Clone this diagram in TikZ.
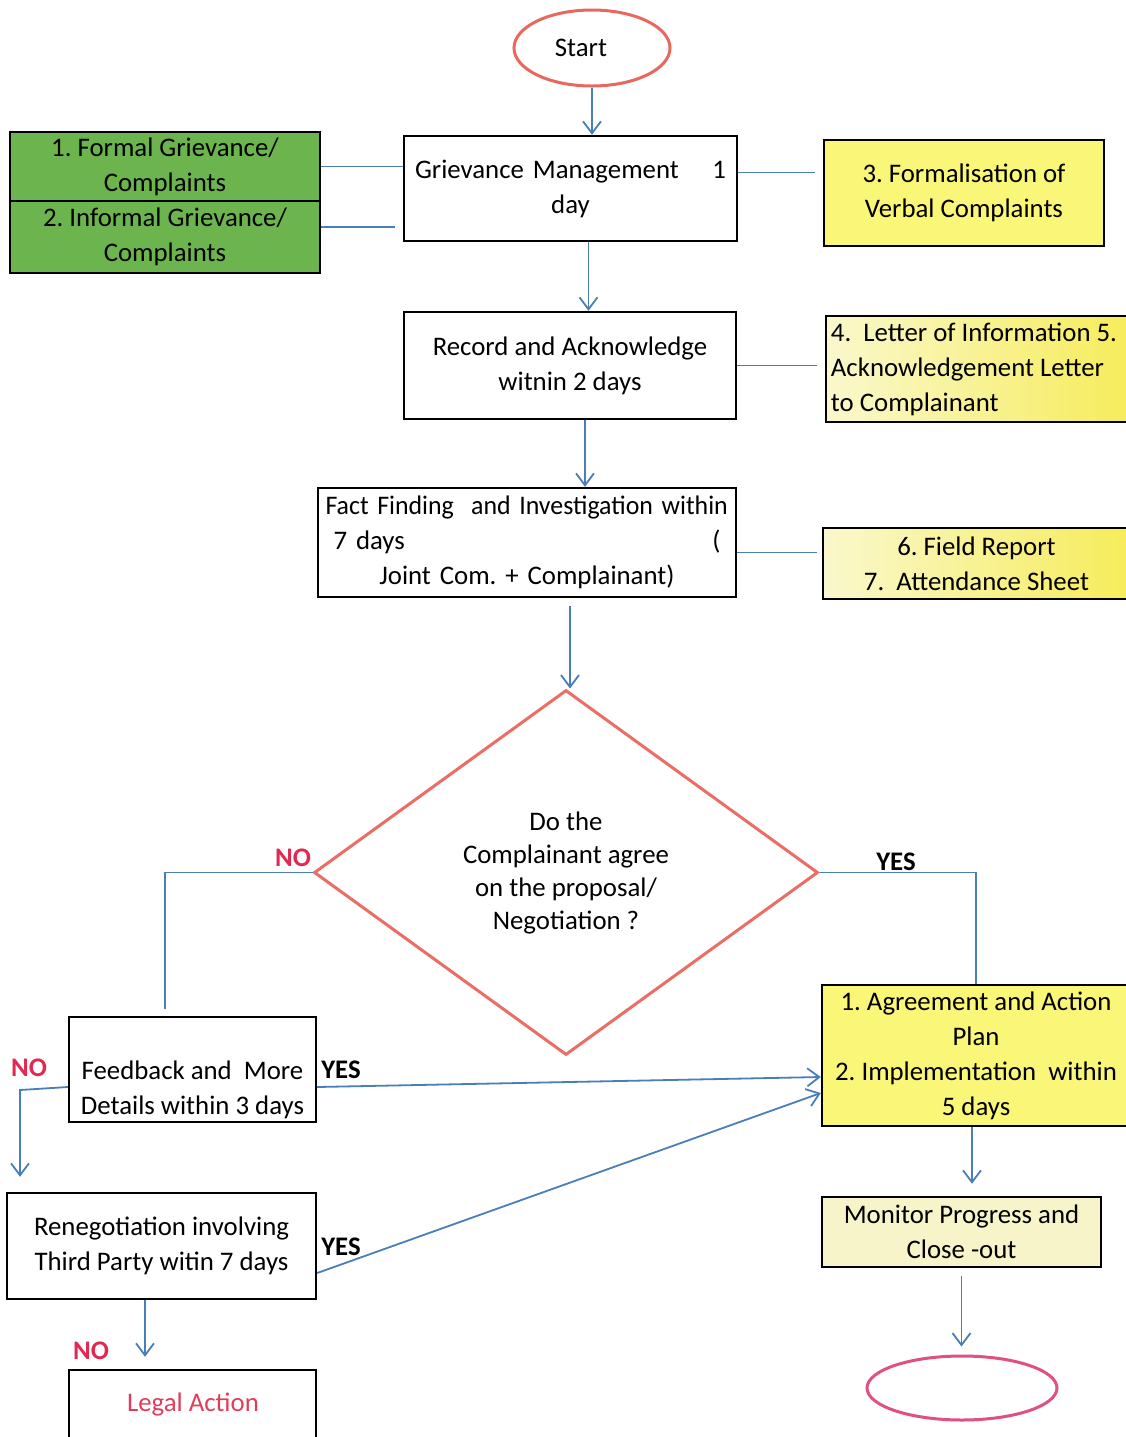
\documentclass[tikz,border=0pt]{standalone}
\usepackage{fontspec}
\usepackage{graphicx}
\setmainfont{Carlito}
\usetikzlibrary{arrows.meta,shapes.geometric,calc}
\definecolor{linkblue}{RGB}{74,126,187}
\definecolor{startred}{RGB}{232,104,96}
\definecolor{decred}{RGB}{235,110,100}
\definecolor{endpink}{RGB}{224,80,130}
\definecolor{nored}{RGB}{226,40,80}
\definecolor{legalred}{RGB}{226,60,90}
\definecolor{greenfill}{RGB}{108,180,78}
\definecolor{yellowfill}{RGB}{250,246,120}
\definecolor{paleyellow}{RGB}{250,248,205}
\definecolor{deepyellow}{RGB}{246,236,90}
\definecolor{monfill}{RGB}{246,244,200}
\begin{document}
\begin{tikzpicture}[x=0.5pt,y=-0.5pt,
  every node/.style={font=\fontsize{13.4}{17.5}\selectfont\frenchspacing, inner sep=0pt},
  box/.style={draw=black, line width=1.2pt, align=center},
  conn/.style={draw=linkblue, line width=0.9pt},
  arr/.style={conn, -{Straight Barb[length=6pt,width=9pt,line width=0.9pt]}},
  nolbl/.style={text=nored, font=\fontsize{13.4}{17.5}\selectfont\bfseries},
  yeslbl/.style={text=black, font=\fontsize{13.4}{17.5}\selectfont\bfseries}]
\useasboundingbox (0,0) rectangle (1126,1437);
\clip (0,0) rectangle (1126,1437);
\fill[white] (0,0) rectangle (1126,1437);

% nodes
\node[ellipse, draw=startred, line width=1.5pt, minimum width=78pt, minimum height=38pt] (start) at (592,48) {\hspace*{-11pt}Start};

\node[box, fill=greenfill, minimum width=155pt, minimum height=34.5pt] (g1) at (165,166.5) {1. Formal Grievance/\\Complaints};
\node[box, fill=greenfill, minimum width=155pt, minimum height=36pt] (g2) at (165,237) {2. Informal Grievance/\\Complaints};

\node[box, minimum width=166.5pt, minimum height=52.5pt, text width=155.5pt] (grv) at (570.5,188.5) {\makebox[155.5pt]{Grievance Management\hfill 1}\\day};

\node[box, fill=yellowfill, minimum width=140pt, minimum height=53pt] (f3) at (964,193) {3. Formalisation of\\Verbal Complaints};

\node[box, minimum width=166pt, minimum height=53.5pt] (rec) at (570,365.5) {Record and Acknowledge\\witnin 2 days};

\node[box, left color=paleyellow, right color=deepyellow, minimum width=153pt, minimum height=53pt, align=left] (f45) at (979,369) {4.\ \ Letter of Information 5.\hspace*{5pt}\\Acknowledgement Letter\\to Complainant};

\node[box, minimum width=209pt, minimum height=54.5pt, text width=201.5pt] (fact) at (527,542.5) {\makebox[201.5pt][l]{\scalebox{0.965}[1]{Fact Finding\ \ and Investigation within}}\\\makebox[201.5pt]{\hspace{4pt}7 days\hfill(\hspace{4pt}}\\Joint Com. + Complainant)};

\node[box, left color=paleyellow, right color=deepyellow, minimum width=153.5pt, minimum height=35.5pt] (f67) at (976.5,563.5) {6. Field Report\\7.\ \ Attendance Sheet};

\node[diamond, draw=decred, line width=1.5pt, minimum width=252pt, minimum height=182.5pt, align=center, font=\fontsize{13.4}{16.5}\selectfont] (dec) at (566,872.5) {Do the\\Complainant agree\\on the proposal/\\Negotiation ?};

\node[box, minimum width=123.5pt, minimum height=52.5pt] (fb) at (192.5,1069.5) {\strut\\Feedback and\ \ More\\Details within 3 days};

\node[box, fill=yellowfill, minimum width=154pt, minimum height=70.5pt] (agr) at (976,1055.5) {1. Agreement and Action\\Plan\\2. Implementation\ \ within\\5 days};

\node[box, minimum width=154.5pt, minimum height=53pt] (ren) at (161.5,1246) {Renegotiation involving\\Third Party witin 7 days};

\node[box, minimum width=123.5pt, minimum height=45pt] (legal) at (192.5,1415) {};
\node[text=legalred] (legaltxt) at (193,1404) {Legal Action};

\node[box, fill=monfill, minimum width=139.5pt, minimum height=35pt] (mon) at (961.5,1232) {Monitor Progress and\\Close -out};

\node[ellipse, draw=endpink, line width=1.5pt, minimum width=95pt, minimum height=32pt] (end) at (962,1388) {};

% labels
\node[nolbl] (no1) at (293,858) {NO};
\node[yeslbl] (yes1) at (896,862) {YES};
\node[nolbl] (no2) at (29,1068) {NO};
\node[yeslbl] (yes2) at (341,1070) {YES};
\node[yeslbl] (yes3) at (341,1247) {YES};
\node[nolbl] (no3) at (91,1351) {NO};

% connectors
\draw[arr] (start.south) -- (start.south |- grv.north);
\draw[conn] (g1.east) -- (g1.east -| grv.west);
\coordinate (g2e) at ([yshift=5pt]g2.east);
\draw[conn, shorten >=4pt] (g2e) -- (g2e -| grv.west);
\coordinate (grve) at ([yshift=8pt]grv.east);
\draw[conn, shorten >=4pt] (grve) -- (grve -| f3.west);
\coordinate (grvs) at ([xshift=9pt]grv.south);
\draw[arr] (grvs) -- (grvs |- rec.north);
\draw[conn, shorten >=4pt] (rec.east) -- (rec.east -| f45.west);
\coordinate (recs) at ([xshift=7.5pt]rec.south);
\draw[arr] (recs) -- (recs |- fact.north);
\coordinate (facte) at ([yshift=-5pt]fact.east);
\draw[conn, shorten >=2.5pt] (facte) -- (facte -| f67.west);
\coordinate (facts) at ([xshift=21.5pt]fact.south);
\draw[arr, shorten <=4pt] (facts) -- (facts |- dec.north);
\coordinate (noturn) at ([xshift=-13.75pt]fb.north |- dec.west);
\draw[conn, shorten >=3.5pt] (dec.west) -- (noturn) -- (noturn |- fb.north);
\draw[conn] (dec.east) -| (agr.north);
\draw[arr] ([yshift=-8.75pt]fb.east) -- ([yshift=-10.75pt]agr.west);
\coordinate (fbw) at ([yshift=-8.75pt]fb.west);
\coordinate (noturn2) at (20,1090);
\draw[arr, shorten >=7.5pt] (fbw) -- (noturn2) -- (noturn2 |- ren.north);
\draw[arr] ([yshift=-13.5pt]ren.east) -- ([yshift=-18.75pt]agr.west);
\coordinate (rens) at ([xshift=-8.25pt]ren.south);
\draw[arr, shorten >=6pt] (rens) -- (rens |- legal.north);
\coordinate (agrs) at ([xshift=-2pt]agr.south);
\draw[arr, shorten >=6pt] (agrs) -- (agrs |- mon.north);
\draw[arr, shorten <=4pt, shorten >=4pt] (mon.south) -- (mon.south |- end.north);
\end{tikzpicture}
\end{document}
